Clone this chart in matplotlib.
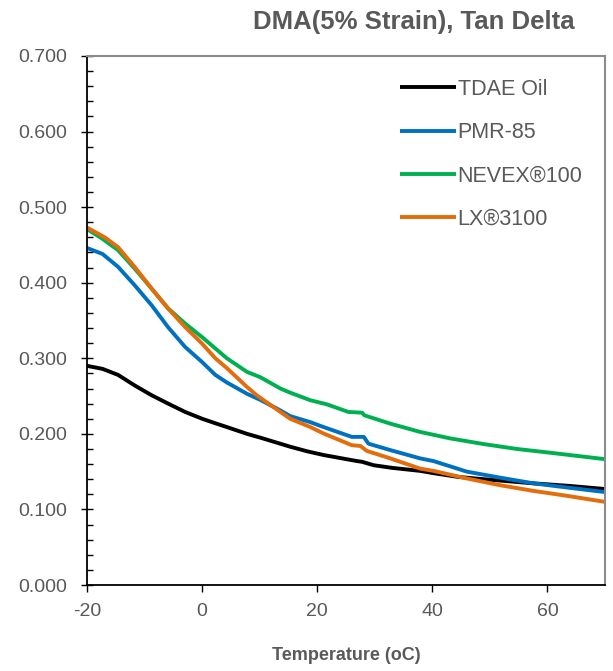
import matplotlib
matplotlib.use('Agg')
import matplotlib.pyplot as plt
from matplotlib.ticker import MultipleLocator, FormatStrFormatter

plt.rcParams['font.family'] = ['Liberation Sans', 'DejaVu Sans']
plt.rcParams['axes.unicode_minus'] = False

# values (temperature in oC, tan delta)
tdae_t = [-20, -17.3, -14.6, -11.7, -8.75, -5.9, -2.95, 0, 2.3, 4.3, 7.8, 10.1,
          15.3, 18.2, 21.1, 26.9, 27.8, 29.8, 33, 37.9, 40.2, 44.5, 48.9, 57.6, 64, 70]
tdae_y = [0.290, 0.286, 0.278, 0.264, 0.251, 0.240, 0.229, 0.220, 0.214, 0.209, 0.200, 0.195,
          0.183, 0.177, 0.172, 0.164, 0.163, 0.1585, 0.155, 0.151, 0.148, 0.143, 0.140, 0.1345, 0.131, 0.127]

pmr_t = [-20, -17.3, -14.6, -11.7, -8.75, -5.9, -2.95, 0, 2.3, 4.3, 7.8, 10.1, 13.6,
         15.3, 18.8, 21.1, 26, 28.1, 28.9, 32.7, 37.9, 40.2, 46, 51.8, 57.6, 63.4, 70]
pmr_y = [0.446, 0.438, 0.421, 0.3965, 0.370, 0.341, 0.315, 0.295, 0.278, 0.268, 0.253, 0.245, 0.231,
         0.2235, 0.2155, 0.209, 0.196, 0.196, 0.187, 0.1785, 0.1675, 0.164, 0.150, 0.142, 0.1345, 0.129, 0.123]

nevex_t = [-20, -17.3, -14.6, -11.7, -8.75, -5.9, -2.95, 0, 2.3, 4.3, 7.8, 10.1, 13.6,
           15.3, 18.8, 21.7, 25.4, 27.8, 28.2, 32.7, 37.9, 43.1, 48.9, 54.7, 60.5, 70]
nevex_y = [0.471, 0.458, 0.443, 0.4185, 0.392, 0.366, 0.346, 0.328, 0.313, 0.300, 0.282, 0.275, 0.260,
           0.2545, 0.2445, 0.239, 0.229, 0.228, 0.2245, 0.2135, 0.2025, 0.194, 0.1865, 0.180, 0.175, 0.1665]

lx_t = [-20, -16.9, -14.6, -11.7, -8.75, -5.9, -2.95, 0, 2.3, 4.3, 7.8, 9.5, 13.6,
        15.3, 18.8, 21.1, 26, 27.5, 28.6, 32.7, 37.9, 40.2, 46, 51.8, 57.6, 63.4, 70]
lx_y = [0.473, 0.460, 0.447, 0.4207, 0.392, 0.3657, 0.3414, 0.3194, 0.300, 0.287, 0.262, 0.251, 0.229,
        0.220, 0.209, 0.2005, 0.185, 0.184, 0.1775, 0.1675, 0.154, 0.151, 0.141, 0.132, 0.1245, 0.118, 0.110]

labels = ['TDAE Oil', 'PMR-85', 'NEVEX®100', 'LX®3100']
colors = ['#000000', '#0070C0', '#00B050', '#E46C0A']
txt = '#595959'

fig = plt.figure(figsize=(6.13, 6.71), dpi=100)
ax = fig.add_axes([87 / 613, 86 / 671, 518 / 613, 529 / 671])

series = [(tdae_t, tdae_y), (pmr_t, pmr_y), (nevex_t, nevex_y), (lx_t, lx_y)]
for (t, v), lab, c in zip(series, labels, colors):
    ax.plot(t, v, color=c, lw=2.8, label=lab, solid_capstyle='butt')

ax.set_xlim(-20, 70)
ax.set_ylim(0, 0.7)
ax.xaxis.set_major_locator(MultipleLocator(20))
ax.yaxis.set_major_locator(MultipleLocator(0.1))
ax.yaxis.set_minor_locator(MultipleLocator(0.02))
ax.yaxis.set_major_formatter(FormatStrFormatter('%.3f'))

ax.tick_params(axis='y', which='major', direction='inout', length=8, width=1,
               labelsize=14, labelcolor=txt, pad=10)
ax.tick_params(axis='y', which='minor', direction='in', length=4, width=1)
ax.tick_params(axis='x', which='major', direction='out', length=5, width=1,
               labelsize=14, labelcolor=txt, pad=8)

for s in ['left', 'bottom']:
    ax.spines[s].set_color('#000000')
    ax.spines[s].set_linewidth(1.3)
for s in ['top', 'right']:
    ax.spines[s].set_color('#8c8c8c')
    ax.spines[s].set_linewidth(1.5)

ax.set_xlabel('Temperature (oC)', fontsize=13, fontweight='bold', color=txt, va='center')
ax.xaxis.set_label_coords(0.5, -(655 - 585) / 529)

fig.text(414 / 613, 1 - 22 / 671, 'DMA(5% Strain), Tan Delta', ha='center', va='center',
         fontsize=18.5, fontweight='bold', color=txt)

leg = ax.legend(loc='upper left', bbox_to_anchor=((400 - 87) / 518, (585 - 79) / 529),
                frameon=False, fontsize=15.5, handlelength=2.58, handletextpad=0.1,
                labelspacing=1.03, borderpad=0, borderaxespad=0)
for t in leg.get_texts():
    t.set_color(txt)

fig.savefig('out.png', dpi=100)
